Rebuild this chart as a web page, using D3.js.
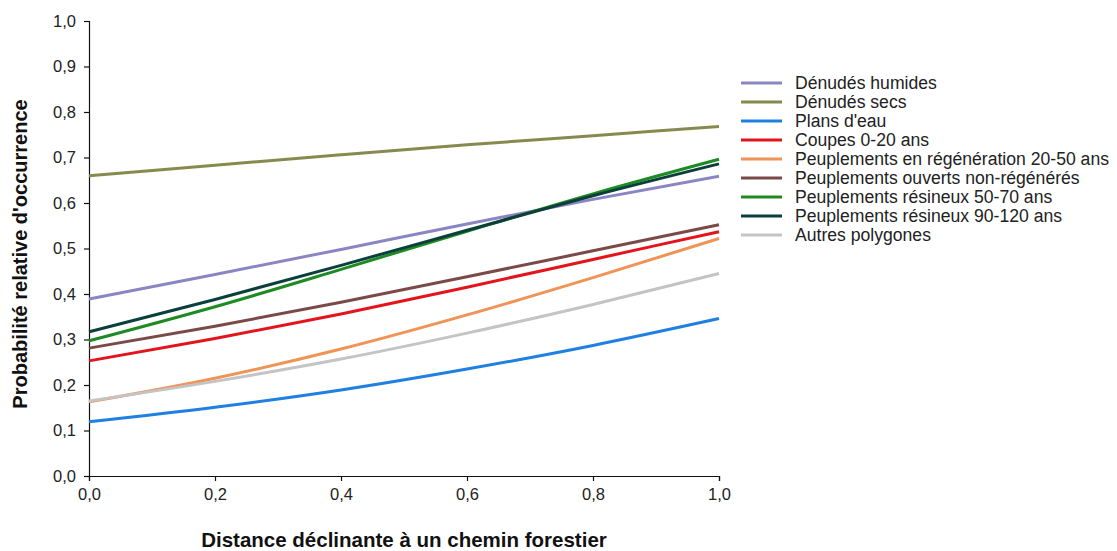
<!DOCTYPE html>
<html>
<head>
<meta charset="utf-8">
<script src="https://cdn.jsdelivr.net/npm/d3@7"></script>
<style>
  body { margin: 0; background: #fff; }
  svg { font-family: "Liberation Sans", Arial, sans-serif; }
</style>
</head>
<body>
<svg id="chart" width="1117" height="551"></svg>
<script>
// distance values (x) where the curves were read
const xs = [0, 0.2, 0.4, 0.6, 0.8, 1.0];

const names = [
  "Dénudés humides",
  "Dénudés secs",
  "Plans d'eau",
  "Coupes 0-20 ans",
  "Peuplements en régénération 20-50 ans",
  "Peuplements ouverts non-régénérés",
  "Peuplements résineux 50-70 ans",
  "Peuplements résineux 90-120 ans",
  "Autres polygones"
];
const colors = ["#8a86c4", "#878a4e", "#1f80e2", "#e3141c", "#ef9456", "#7b4a48", "#1d8a22", "#0b3f3b", "#c4c4c4"];

const denudesHumides = [0.389, 0.443, 0.498, 0.554, 0.608, 0.659];
const denudesSecs    = [0.660, 0.683, 0.706, 0.728, 0.748, 0.768];
const plansEau       = [0.119, 0.151, 0.189, 0.235, 0.287, 0.346];
const coupes         = [0.253, 0.302, 0.356, 0.415, 0.476, 0.537];
const regeneration   = [0.163, 0.215, 0.279, 0.354, 0.436, 0.522];
const ouverts        = [0.281, 0.329, 0.382, 0.438, 0.495, 0.552];
const resineux5070   = [0.297, 0.372, 0.454, 0.538, 0.620, 0.696];
const resineux90120  = [0.317, 0.388, 0.463, 0.540, 0.616, 0.686];
const autres         = [0.165, 0.208, 0.257, 0.314, 0.377, 0.445];

const series = [denudesHumides, denudesSecs, plansEau, coupes, regeneration, ouverts, resineux5070, resineux90120, autres];

const xTicks = [0, 0.2, 0.4, 0.6, 0.8, 1.0];
const yTicks = [0, 0.1, 0.2, 0.3, 0.4, 0.5, 0.6, 0.7, 0.8, 0.9, 1.0];

const svg = d3.select("#chart");
const margin = {left: 89, top: 21, right: 398, bottom: 75};
const width = 1117 - margin.left - margin.right;
const height = 551 - margin.top - margin.bottom;

const g = svg.append("g").attr("transform", `translate(${margin.left},${margin.top})`);

const x = d3.scaleLinear().domain([0, 1]).range([0, width]);
const y = d3.scaleLinear().domain([0, 1]).range([height, 0]);
const fmt = d => d3.format(".1f")(d).replace(".", ",");

const xAxis = g.append("g")
  .attr("transform", `translate(0,${height})`)
  .call(d3.axisBottom(x).tickValues(xTicks).tickFormat(fmt).tickSize(5).tickPadding(7));
const yAxis = g.append("g")
  .call(d3.axisLeft(y).tickValues(yTicks).tickFormat(fmt).tickSize(5).tickPadding(8));

[xAxis, yAxis].forEach(a => {
  a.select(".domain").attr("stroke", "#111").attr("stroke-width", 1.2);
  a.selectAll(".tick line").attr("stroke", "#111").attr("stroke-width", 1.2);
  a.selectAll(".tick text").attr("fill", "#222").style("font-size", "16.5px")
    .style("font-family", '"Liberation Sans", Arial, sans-serif');
});

const line = d3.line()
  .x((d, i) => x(xs[i]))
  .y(d => y(d))
  .curve(d3.curveMonotoneX);

g.append("g").selectAll("path")
  .data(series)
  .enter().append("path")
  .attr("d", d => line(d))
  .attr("fill", "none")
  .attr("stroke", (d, i) => colors[i])
  .attr("stroke-width", 3);

// axis titles
svg.append("text")
  .attr("x", margin.left + width / 2)
  .attr("y", 547)
  .attr("text-anchor", "middle")
  .style("font-size", "20.5px")
  .style("font-weight", "bold")
  .attr("fill", "#111")
  .text("Distance déclinante à un chemin forestier");

svg.append("text")
  .attr("transform", `translate(27,${254}) rotate(-90)`)
  .attr("text-anchor", "middle")
  .style("font-size", "20px")
  .style("font-weight", "bold")
  .attr("fill", "#111")
  .text("Probabilité relative d'occurrence");

// legend
const legend = svg.append("g").attr("transform", "translate(741,83)");
const item = legend.selectAll("g")
  .data(names)
  .enter().append("g")
  .attr("transform", (d, i) => `translate(0,${i * 19})`);
item.append("line")
  .attr("x1", 0).attr("x2", 41)
  .attr("stroke", (d, i) => colors[i])
  .attr("stroke-width", 3);
item.append("text")
  .attr("x", 54).attr("y", 6)
  .style("font-size", "17.6px")
  .attr("fill", "#222")
  .text(d => d);
</script>
</body>
</html>
